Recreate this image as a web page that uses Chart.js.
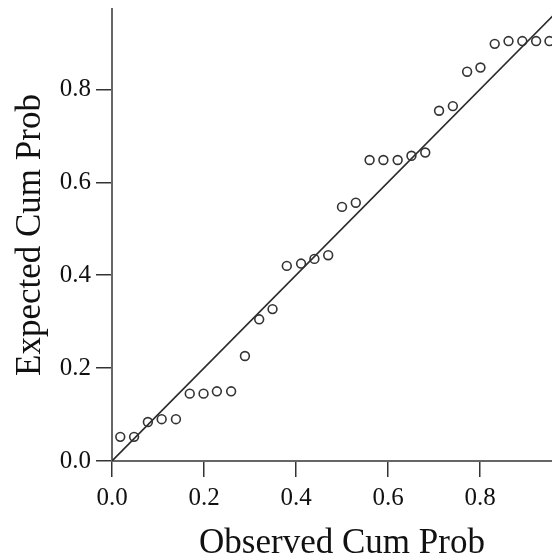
<!DOCTYPE html>
<html>
<head>
<meta charset="utf-8">
<script src="https://cdn.jsdelivr.net/npm/chart.js@4/dist/chart.umd.min.js"></script>
<style>
  html, body { margin: 0; padding: 0; background: #fff; overflow: hidden; }
  #wrap { width: 578px; height: 555px; position: relative; }
</style>
</head>
<body>
<div id="wrap"><canvas id="c"></canvas></div>
<script>
// Observed cumulative probabilities (x)
const observedCumProb = [
  0.018, 0.048, 0.078, 0.108, 0.139, 0.169, 0.199, 0.228, 0.259, 0.289,
  0.320, 0.349, 0.380, 0.411, 0.440, 0.470, 0.500, 0.530, 0.560, 0.590,
  0.621, 0.651, 0.681, 0.711, 0.741, 0.772, 0.801, 0.832, 0.862, 0.892,
  0.922, 0.951
];
// Expected cumulative probabilities (y)
const expectedCumProb = [
  0.052, 0.052, 0.084, 0.090, 0.090, 0.145, 0.145, 0.150, 0.150, 0.226,
  0.305, 0.327, 0.420, 0.425, 0.435, 0.443, 0.547, 0.556, 0.648, 0.648,
  0.648, 0.657, 0.664, 0.754, 0.764, 0.838, 0.847, 0.898, 0.904, 0.904,
  0.904, 0.904
];
// Reference diagonal (y = x)
const diagonalX = [0, 1];
const diagonalY = [0, 1];
// Axis ranges and tick labels
const xRange = [0, 1.0];
const yRange = [0, 0.973];
const tickValues = [0, 0.2, 0.4, 0.6, 0.8, 1.0];
const tickLabels = ['0.0', '0.2', '0.4', '0.6', '0.8', '1.0'];

const points = observedCumProb.map((x, i) => ({ x: x, y: expectedCumProb[i] }));
const diag = diagonalX.map((x, i) => ({ x: x, y: diagonalY[i] }));

const serif = '"Liberation Serif", "Times New Roman", serif';
const labelFor = v => {
  const i = tickValues.findIndex(t => Math.abs(t - v) < 1e-9);
  return i >= 0 ? tickLabels[i] : '';
};
const zeroPad = s => { s.paddingTop = 0; s.paddingBottom = 0; s.paddingLeft = 0; s.paddingRight = 0; };

new Chart(document.getElementById('c'), {
  type: 'scatter',
  data: {
    datasets: [
      {
        data: points,
        showLine: false,
        pointStyle: 'circle',
        pointRadius: 4.4,
        pointBorderWidth: 1.6,
        pointBorderColor: '#333333',
        pointBackgroundColor: 'rgba(0,0,0,0)',
        order: 1
      },
      {
        type: 'line',
        data: diag,
        borderColor: '#2a2a2a',
        borderWidth: 1.6,
        pointRadius: 0,
        fill: false,
        order: 2
      }
    ]
  },
  options: {
    responsive: true,
    maintainAspectRatio: false,
    animation: false,
    devicePixelRatio: 1,
    layout: { padding: { top: 9, right: 2, left: 0, bottom: 0 } },
    plugins: { legend: { display: false }, tooltip: { enabled: false } },
    scales: {
      x: {
        type: 'linear',
        min: xRange[0],
        max: xRange[1],
        afterFit: s => { s.height = 94; zeroPad(s); },
        ticks: {
          stepSize: 0.2,
          includeBounds: false,
          callback: v => labelFor(v),
          font: { family: serif, size: 25 },
          color: '#111',
          padding: 6,
          maxRotation: 0
        },
        grid: {
          drawOnChartArea: false,
          drawTicks: true,
          tickLength: 16,
          color: '#333',
          lineWidth: 1.5
        },
        border: { display: true, color: '#666', width: 2 },
        title: {
          display: true,
          text: 'Observed Cum Prob',
          font: { family: serif, size: 35 },
          color: '#111',
          padding: { top: 0, bottom: -10 }
        }
      },
      y: {
        type: 'linear',
        min: yRange[0],
        max: yRange[1],
        afterFit: s => { s.width = 112; zeroPad(s); },
        ticks: {
          stepSize: 0.2,
          includeBounds: false,
          callback: v => labelFor(v),
          font: { family: serif, size: 25 },
          color: '#111',
          padding: 5
        },
        grid: {
          drawOnChartArea: false,
          drawTicks: true,
          tickLength: 16,
          color: '#333',
          lineWidth: 1.5
        },
        border: { display: true, color: '#666', width: 2 },
        title: {
          display: true,
          text: 'Expected Cum Prob',
          font: { family: serif, size: 35 },
          color: '#111',
          padding: { top: 10, bottom: 0 }
        }
      }
    }
  }
});
</script>
</body>
</html>
